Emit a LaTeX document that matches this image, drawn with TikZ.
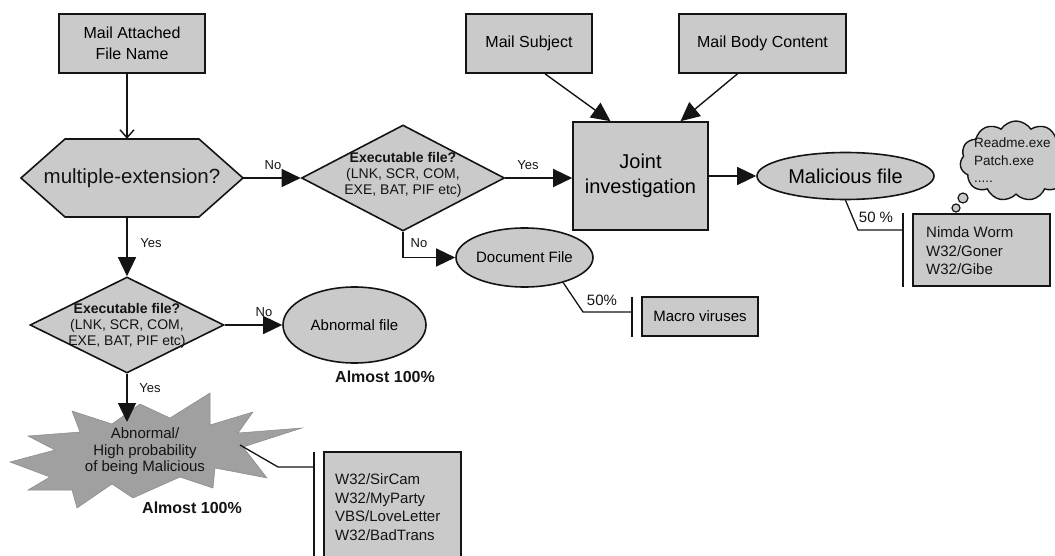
\documentclass[tikz,border=0pt]{standalone}
\usepackage{fontspec}
\setmainfont{Liberation Sans}
\usetikzlibrary{arrows.meta,shapes.geometric,shapes.symbols,calc}
\definecolor{boxgray}{RGB}{202,202,202}
\definecolor{stargray}{RGB}{160,160,160}
\definecolor{ink}{RGB}{20,20,20}
\begin{document}
\begin{tikzpicture}[x=1pt,y=-1pt,
  box/.style={draw=ink, fill=boxgray, line width=1.6pt, align=center, inner sep=0pt},
  oval/.style={ellipse, draw=ink, fill=boxgray, line width=1.6pt, inner sep=0pt},
  dia/.style={diamond, draw=ink, fill=boxgray, line width=1.6pt, inner sep=0pt},
  flow/.style={draw=ink, line width=1.4pt, -{Triangle[length=19pt,width=18pt]}},
  openflow/.style={draw=ink, line width=1.4pt, -{Straight Barb[length=8pt,width=14pt]}},
  lbl/.style={font=\fontsize{13}{15}\selectfont, inner sep=0pt, text=ink},
  call/.style={draw=ink, line width=1.3pt},
  tag/.style={font=\fontsize{15}{18}\selectfont, inner sep=0pt, text=ink},
  bigpct/.style={font=\bfseries\fontsize{16}{19}\selectfont, inner sep=0pt, text=ink},
  txt/.style={inner sep=0pt, align=center, text=ink},
]
\useasboundingbox (0,0) rectangle (1055,556);

% ---- filled shapes drawn as paths ----
\draw[fill=boxgray, draw=ink, line width=1.6pt]
  (21,178) -- (65,139) -- (199,139) -- (243,178) -- (199,217) -- (65,217) -- cycle;
\fill[stargray, draw=stargray!85!black, line width=0.5pt]
  (10,462) -- (55,450) -- (28,436) -- (80,432) -- (72,411) -- (112,424) -- (140,404)
  -- (170,418) -- (210,393) -- (210,425) -- (253,412) -- (238,433) -- (302,428)
  -- (243,447) -- (267,478) -- (215,468) -- (213,488) -- (180,477) -- (133,498)
  -- (112,484) -- (77,508) -- (72,490) -- (28,490) -- (50,477) -- cycle;

% ---- nodes ----
\node[box, minimum width=146, minimum height=59, font=\fontsize{16}{21}\selectfont] (attach) at (132,43.5) {Mail Attached\\File Name};
\node[txt, minimum width=222, minimum height=78, font=\fontsize{20.5}{24}\selectfont] (hex) at (132,178) {multiple-extension?};

\node[dia, minimum width=203, minimum height=106] (d2) at (403,178) {};
\node[txt, font=\fontsize{14}{16}\selectfont] (d2t) at (403,175) {\textbf{Executable file?}\\(LNK, SCR, COM,\\EXE, BAT, PIF etc)};

\node[box, minimum width=126, minimum height=59, font=\fontsize{16}{20}\selectfont] (subj) at (529,43.5) {Mail Subject};
\node[box, minimum width=167, minimum height=59, font=\fontsize{16}{20}\selectfont] (body) at (762.5,43.5) {Mail Body Content};
\node[box, minimum width=135, minimum height=108, font=\fontsize{20}{25}\selectfont] (joint) at (640.5,176) {Joint\\investigation};

\node[oval, minimum width=177, minimum height=47, font=\fontsize{20}{24}\selectfont] (mal) at (845.5,176) {Malicious file};
\node[oval, minimum width=137, minimum height=59, font=\fontsize{15}{18}\selectfont] (doc) at (524.5,257.5) {Document File};
\node[box, minimum width=116, minimum height=39, font=\fontsize{15}{18}\selectfont] (macro) at (700,316.5) {Macro viruses};

\node[box, minimum width=137, minimum height=72] (nimda) at (981.5,250) {};
\node[txt, anchor=west, align=left, font=\fontsize{15}{18.5}\selectfont] (nimdat) at (926,251) {Nimda Worm\\W32/Goner\\W32/Gibe};

\node[cloud, cloud puffs=11, cloud puff arc=115, aspect=1.5, draw=ink, fill=boxgray, line width=1.4pt, minimum width=112, minimum height=80, inner sep=0pt] (cloud) at (1016,161) {};
\node[circle, draw=ink, fill=boxgray, line width=1.2pt, minimum size=10, inner sep=0pt] (bub1) at (963,198) {};
\node[circle, draw=ink, fill=boxgray, line width=1.2pt, minimum size=8, inner sep=0pt] (bub2) at (956,208) {};
\node[txt, anchor=west, align=left, font=\fontsize{13.5}{17.5}\selectfont] (cloudt) at (974,160.5) {Readme.exe\\Patch.exe\\.....};

\node[dia, minimum width=194, minimum height=96] (d3) at (127,325) {};
\node[txt, font=\fontsize{14}{16}\selectfont] (d3t) at (127,326) {\textbf{Executable file?}\\(LNK, SCR, COM,\\EXE, BAT, PIF etc)};
\node[oval, minimum width=143, minimum height=76, font=\fontsize{15}{18}\selectfont] (abn) at (354.5,325) {Abnormal file};
\node[bigpct] (abnpct) at (385,377) {Almost 100\%};

\node[txt, font=\fontsize{15}{16.5}\selectfont] (star) at (145,451.5) {Abnormal/\\High probability\\of being Malicious};
\node[bigpct] (starpct) at (192,508) {Almost 100\%};
\node[box, minimum width=137, minimum height=130] (sirbox) at (392.5,517) {};
\node[txt, anchor=west, align=left, font=\fontsize{15}{18.7}\selectfont] (sirt) at (335,507) {W32/SirCam\\W32/MyParty\\VBS/LoveLetter\\W32/BadTrans};

% ---- labels ----
\node[lbl] (no1) at (273,165) {No};
\node[lbl] (yes1) at (151,243) {Yes};
\node[lbl] (yes2) at (528,165) {Yes};
\node[lbl] (no2) at (419,243) {No};
\node[lbl] (no3) at (264,312) {No};
\node[lbl] (yes3) at (150,388) {Yes};
\node[tag] (docpct) at (602,300) {50\%};
\node[tag] (malpct) at (876,217) {50 \%};

% ---- connectors ----
\draw[openflow] (attach.south -| d3.north) -- (hex.north -| d3.north);
\draw[flow] (hex.east) -- (d2.west);
\draw[flow] (hex.south -| d3.north) -- (d3.north);
\draw[flow] (d2.east) -- (d2.east -| joint.west);
\draw[flow] (d2.south) |- (doc.west);
\draw[flow] ($(subj.south)+(16,0)$) -- ($(joint.north)+(-30,0)$);
\draw[flow] ($(body.south)+(-25,0)$) -- ($(joint.north)+(40,0)$);
\draw[flow] (joint.east) -- (mal.west);
\draw[flow] (d3.east) -- (d3.east -| abn.west);
\coordinate (startop) at (127,422);
\draw[flow] (d3.south) -- (startop);

% ---- callouts ----
\coordinate (docknee) at (583,312);
\coordinate (docbar) at (632,312);
\coordinate (docbarT) at (632,297);
\coordinate (docbarB) at (632,337);
\draw[call] (doc.-33) -- (docknee) -- (docbar);
\draw[call] (docbarT) -- (docbarB);

\coordinate (malknee) at (858,230);
\coordinate (malbar) at (903,230);
\coordinate (malbarT) at (903,213);
\coordinate (malbarB) at (903,287);
\draw[call] (mal.south) -- (malknee) -- (malbar);
\draw[call] (malbarT) -- (malbarB);

\coordinate (starpt) at (240,445);
\coordinate (starknee) at (278,467);
\coordinate (starbar) at (314,467);
\coordinate (starbarT) at (314,452);
\coordinate (starbarB) at (314,570);
\draw[call] (starpt) -- (starknee) -- (starbar);
\draw[call] (starbarT) -- (starbarB);
\end{tikzpicture}
\end{document}
